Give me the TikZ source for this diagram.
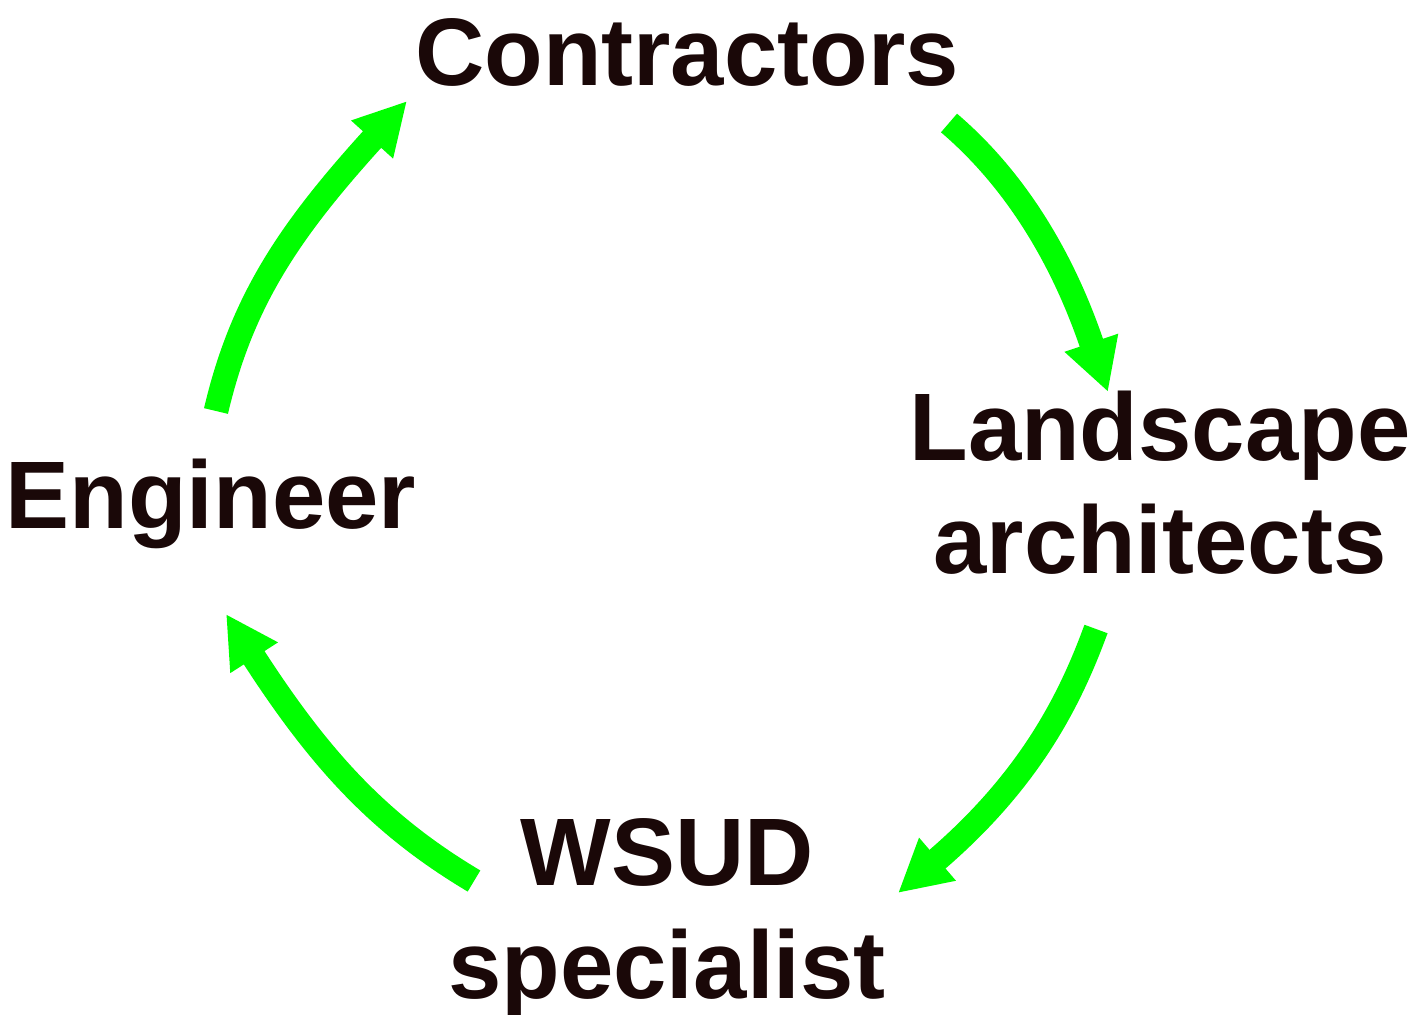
\documentclass[tikz,border=0pt]{standalone}
\usepackage{fontspec}
\setmainfont{Liberation Sans}
\usetikzlibrary{arrows.meta}

\definecolor{flowgreen}{RGB}{0,255,0}
\definecolor{ink}{RGB}{26,8,8}

\begin{document}
\begin{tikzpicture}[x=0.02cm, y=-0.02cm,
	role/.style={font=\fontsize{54.6}{64.3}\selectfont\bfseries, text=ink, align=center, inner sep=0pt, anchor=base},
	flow/.style={draw=flowgreen, line width=14pt, -{Triangle[length=29.6pt, width=30pt]}}]

	\useasboundingbox (0, 0) rectangle (1411, 1015);

	% base anchor sits on the last line of a two-line label
	\node[role] (contractors) at (687, 85)   {Contractors};
	\node[role] (engineer)    at (211, 528)  {Engineer};
	\node[role] (landscape)   at (1160, 573) {Landscape\\architects};
	\node[role] (wsud)        at (667, 998)  {WSUD\\specialist};

	% ends of the cycle arrows
	\coordinate (eng out)  at (216, 411);
	\coordinate (con in)   at (407, 101);
	\coordinate (con out)  at (949, 123);
	\coordinate (land in)  at (1108, 392);
	\coordinate (land out) at (1096, 629);
	\coordinate (wsud in)  at (898, 893);
	\coordinate (wsud out) at (474, 881);
	\coordinate (eng in)   at (226, 614);

	\draw[flow] (eng out)  .. controls (242, 300) and (290, 230)  .. (con in);
	\draw[flow] (con out)  .. controls (1010, 175) and (1060, 250) .. (land in);
	\draw[flow] (land out) .. controls (1070, 700) and (1030, 780) .. (wsud in);
	\draw[flow] (wsud out) .. controls (380, 825) and (320, 760)   .. (eng in);

\end{tikzpicture}
\end{document}
